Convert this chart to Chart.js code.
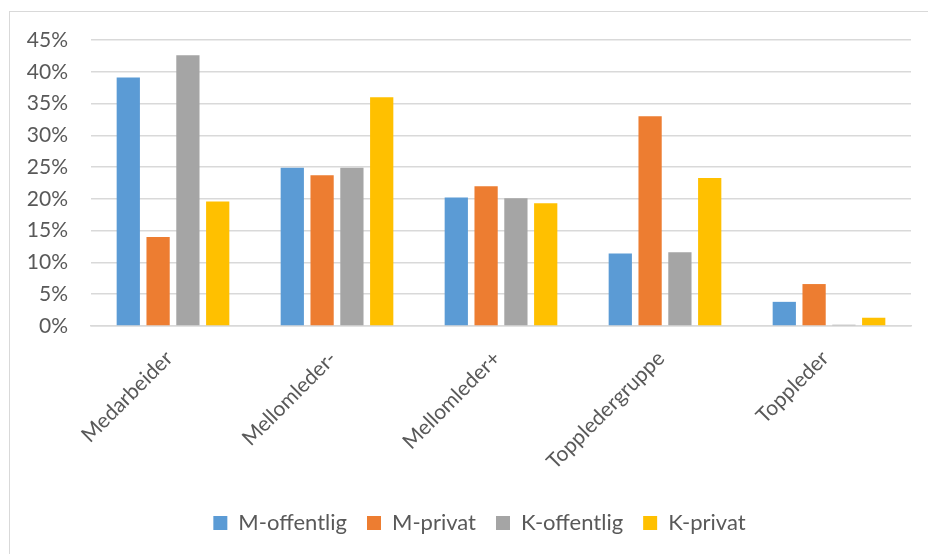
<!DOCTYPE html>
<html>
<head>
<meta charset="utf-8">
<script src="https://cdn.jsdelivr.net/npm/chart.js@4.4.1/dist/chart.umd.min.js"></script>
<style>
  html, body { margin: 0; padding: 0; background: #fff; }
  #wrap { position: relative; width: 928px; height: 554px; overflow: hidden; }
  #frame {
    position: absolute; left: 9px; top: 11px; width: 1000px; height: 600px;
    border-top: 1px solid #d9d9d9; border-left: 1px solid #d9d9d9;
  }
  canvas { position: absolute; left: 0; top: 0; }
</style>
</head>
<body>
<div id="wrap">
  <div id="frame"></div>
  <canvas id="barChart" width="928" height="554"></canvas>
</div>
<script>
const categories = ['Medarbeider', 'Mellomleder-', 'Mellomleder+', 'Toppledergruppe', 'Toppleder']
const mOffentlig = [39.1, 24.9, 20.2, 11.4, 3.8]
const mPrivat = [14.0, 23.7, 22.0, 33.0, 6.6]
const kOffentlig = [42.6, 24.9, 20.1, 11.6, 0.2]
const kPrivat = [19.6, 36.0, 19.3, 23.3, 1.3]
const yTicks = [0, 5, 10, 15, 20, 25, 30, 35, 40, 45]

const textColor = '#595959'
const gridColor = '#d9d9d9'
const fontFamily = 'Lato, "Open Sans", sans-serif'

// the original legend sits a bit right of the page centre
const shiftLegend = {
  id: 'shiftLegend',
  afterLayout: chart => {
    chart.legend.left = 48
  }
}

////////// Bar Chart //////////
var ctx = document.getElementById('barChart').getContext('2d')

var barChart = new Chart(ctx, {
  type: 'bar',
  data: {
    labels: categories,
    datasets: [
      { label: 'M-offentlig', data: mOffentlig, backgroundColor: '#5B9BD5' },
      { label: 'M-privat', data: mPrivat, backgroundColor: '#ED7D31' },
      { label: 'K-offentlig', data: kOffentlig, backgroundColor: '#A5A5A5' },
      { label: 'K-privat', data: kPrivat, backgroundColor: '#FFC000' }
    ]
  },
  plugins: [shiftLegend],
  options: {
    responsive: false,
    animation: false,
    categoryPercentage: 0.727,
    barPercentage: 0.78,
    layout: {
      padding: { left: 0, right: 17, top: 40, bottom: 10 }
    },
    plugins: {
      legend: {
        position: 'bottom',
        labels: {
          color: textColor,
          font: { family: fontFamily, size: 22 },
          boxWidth: 14,
          boxHeight: 14,
          padding: 20
        }
      },
      tooltip: { enabled: false }
    },
    scales: {
      x: {
        grid: { display: false },
        border: { color: gridColor, width: 1.5 },
        ticks: {
          color: textColor,
          font: { family: fontFamily, size: 21 },
          minRotation: 45,
          maxRotation: 45,
          padding: 12,
          labelOffset: -4
        },
        afterFit: scale => { scale.height = 166 }
      },
      y: {
        min: 0,
        max: 45,
        grid: { color: gridColor, lineWidth: 1.5, drawTicks: false },
        border: { display: false },
        afterBuildTicks: scale => {
          scale.ticks = yTicks.map(v => ({ value: v }))
        },
        ticks: {
          color: textColor,
          font: { family: fontFamily, size: 21 },
          padding: 23,
          callback: v => v + '%'
        },
        afterFit: scale => { scale.width = 91 }
      }
    }
  }
})
</script>
</body>
</html>
